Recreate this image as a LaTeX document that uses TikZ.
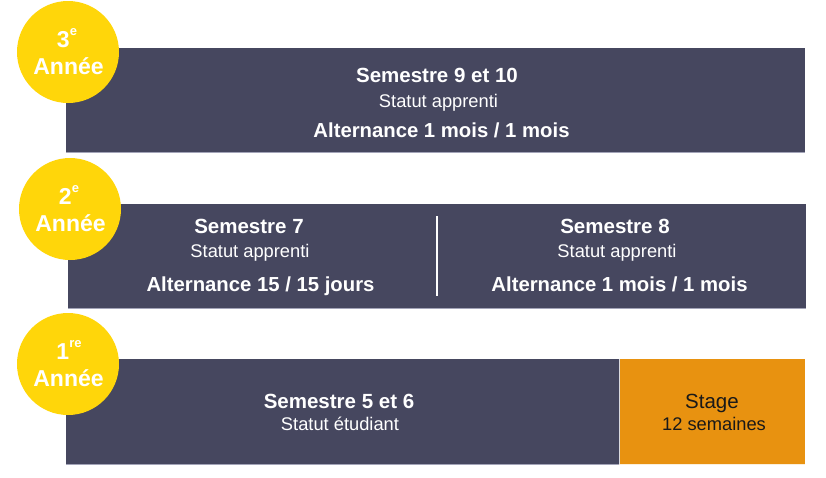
\documentclass[tikz,border=0pt]{standalone}
\usepackage{fontspec}
\setmainfont{Liberation Sans}
\definecolor{barcol}{HTML}{46475F}
\definecolor{yel}{HTML}{FFD60A}
\definecolor{org}{HTML}{E89210}
\definecolor{edge}{HTML}{A3A4B8}
\begin{document}
\begin{tikzpicture}[x=1pt,y=-1pt,
  bar/.style={fill=barcol,draw=none},
  yearcirc/.style={circle,fill=yel,minimum size=102pt,inner sep=0pt},
  yeartxt/.style={anchor=base,inner sep=0pt,text=white,font=\bfseries\fontsize{23}{28}\selectfont},
  hd/.style={anchor=base,inner sep=0pt,text=white,font=\bfseries\fontsize{20.5}{22}\selectfont},
  sub/.style={anchor=base,inner sep=0pt,text=white,font=\fontsize{18.3}{19}\selectfont},
  alt/.style={anchor=base,inner sep=0pt,text=white,font=\bfseries\fontsize{20.3}{22}\selectfont}]
\useasboundingbox (0,0) rectangle (826,477);
% bars
\fill[bar] (66,48) rectangle (805,152);
\draw[edge,line width=0.8pt] (66,152) -- (805,152);
\fill[bar] (68,204) rectangle (806,308);
\draw[edge,line width=0.8pt] (68,308) -- (806,308);
\fill[bar] (66,359) rectangle (619,464);
\fill[org] (619,359) rectangle (805,464);
\draw[edge,line width=0.8pt] (66,464) -- (619,464);
\draw[white!85!org,line width=0.8pt] (619,464) -- (805,464);
\draw[white!80!barcol,line width=0.6pt] (619,359) -- (619,464);
% divider
\coordinate (dtop) at (437,216);
\coordinate (dbot) at (437,296);
\draw[white,line width=1.5pt] (dtop) -- (dbot);
% year 3
\node[hd] (s910) at (437,82) {Semestre 9 et 10};
\node[sub] (s910b) at (438.5,107) {Statut apprenti};
\node[alt] (s910c) at (441.5,137) {Alternance 1 mois / 1 mois};
% year 2
\node[hd] (s7) at (249,233) {Semestre 7};
\node[sub] (s7b) at (250,257) {Statut apprenti};
\node[alt] (s7c) at (260.5,291) {Alternance 15 / 15 jours};
\node[hd] (s8) at (615,233) {Semestre 8};
\node[sub] (s8b) at (617,257) {Statut apprenti};
\node[alt] (s8c) at (619.5,291) {Alternance 1 mois / 1 mois};
% year 1
\node[hd] (s56) at (339,408) {Semestre 5 et 6};
\node[sub] (s56b) at (340,430) {Statut étudiant};
\node[anchor=base,inner sep=0pt,text=black!90,font=\fontsize{20.5}{22}\selectfont] (stg) at (712,408) {Stage};
\node[anchor=base,inner sep=0pt,text=black!90,font=\fontsize{18.3}{19}\selectfont] (stgb) at (714,430) {12 semaines};
% circles
\node[yearcirc] (y3) at (68,52) {};
\node[yeartxt] (y3a) at (67,47) {3\raisebox{0.52em}{\fontsize{13}{13}\selectfont e}};
\node[yeartxt] (y3b) at (68.5,74) {Année};
\node[yearcirc] (y2) at (70,209) {};
\node[yeartxt] (y2a) at (69,204) {2\raisebox{0.52em}{\fontsize{13}{13}\selectfont e}};
\node[yeartxt] (y2b) at (70.5,231) {Année};
\node[yearcirc] (y1) at (68,364) {};
\node[yeartxt] (y1a) at (69,359) {1\raisebox{0.52em}{\fontsize{13}{13}\selectfont re}};
\node[yeartxt] (y1b) at (68.5,386) {Année};
\end{tikzpicture}
\end{document}
